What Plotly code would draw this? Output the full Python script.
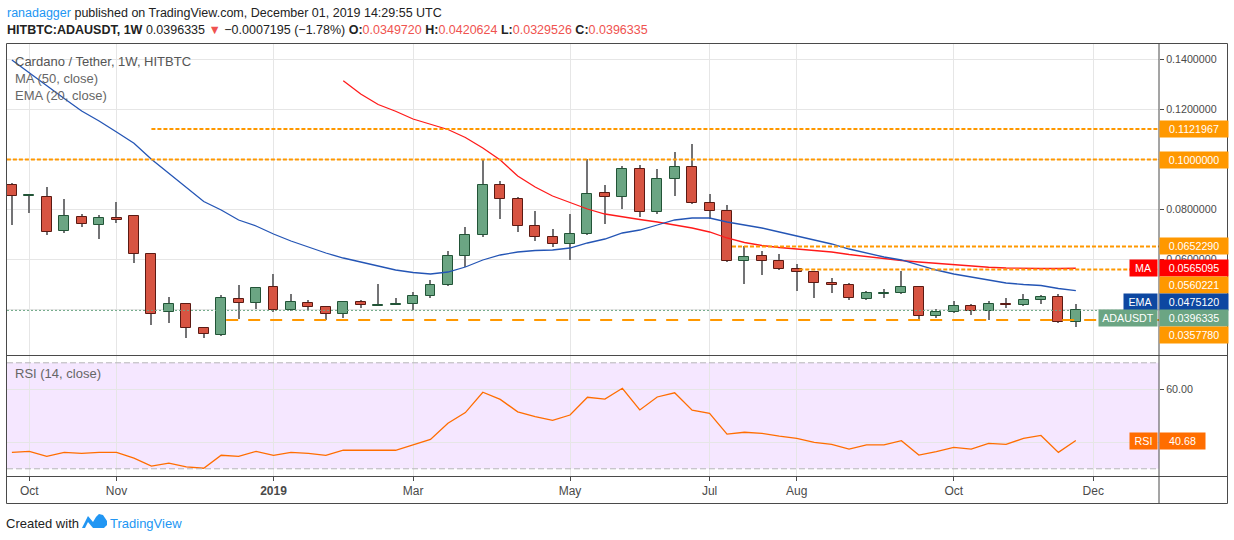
import plotly.graph_objects as go
import pandas as pd

# weekly bars, Sep 24 2018 .. Nov 25 2019
weeks = pd.date_range("2018-09-24", periods=62, freq="7D")

opens = [0.0897, 0.0855, 0.0849, 0.0713, 0.0769, 0.0737, 0.0765, 0.0773, 0.0621, 0.0389,
         0.0421, 0.0325, 0.0297, 0.0441, 0.0425, 0.0489, 0.0397, 0.0425, 0.0409, 0.0381,
         0.0429, 0.0416, 0.0419, 0.0421, 0.0453, 0.0499, 0.0613, 0.0697, 0.0897, 0.0841,
         0.0733, 0.0689, 0.0661, 0.0701, 0.0865, 0.0849, 0.0961, 0.0789, 0.0921, 0.0969,
         0.0825, 0.0793, 0.0593, 0.0613, 0.0593, 0.0561, 0.0549, 0.0505, 0.0497, 0.0441,
         0.0463, 0.0465, 0.0489, 0.0373, 0.0389, 0.0413, 0.0393, 0.0421, 0.0417, 0.0437,
         0.0449, 0.0349720]
highs = [0.0905, 0.0858, 0.0890, 0.0841, 0.0782, 0.0777, 0.0830, 0.0774, 0.0622, 0.0450,
         0.0422, 0.0326, 0.0458, 0.0498, 0.0490, 0.0542, 0.0462, 0.0438, 0.0412, 0.0430,
         0.0437, 0.0501, 0.0445, 0.0469, 0.0518, 0.0634, 0.0730, 0.0998, 0.0914, 0.0849,
         0.0794, 0.0722, 0.0782, 0.1002, 0.0898, 0.0974, 0.0978, 0.0961, 0.1030, 0.1062,
         0.0862, 0.0818, 0.0653, 0.0633, 0.0621, 0.0581, 0.0550, 0.0525, 0.0505, 0.0473,
         0.0481, 0.0553, 0.0493, 0.0401, 0.0433, 0.0421, 0.0433, 0.0445, 0.0461, 0.0457,
         0.0461, 0.0420624]
lows = [0.0739, 0.0787, 0.0699, 0.0707, 0.0731, 0.0683, 0.0745, 0.0587, 0.0339, 0.0347,
        0.0287, 0.0287, 0.0296, 0.0363, 0.0403, 0.0391, 0.0394, 0.0397, 0.0359, 0.0365,
        0.0405, 0.0414, 0.0419, 0.0397, 0.0445, 0.0495, 0.0570, 0.0691, 0.0763, 0.0711,
        0.0673, 0.0649, 0.0597, 0.0697, 0.0741, 0.0803, 0.0771, 0.0781, 0.0853, 0.0824,
        0.0761, 0.0592, 0.0503, 0.0539, 0.0559, 0.0475, 0.0447, 0.0465, 0.0437, 0.0437,
        0.0445, 0.0461, 0.0353, 0.0365, 0.0385, 0.0377, 0.0357, 0.0405, 0.0416, 0.0421,
        0.0345, 0.0329526]
closes = [0.0853, 0.0857, 0.0709, 0.0773, 0.0741, 0.0765, 0.0757, 0.0621, 0.0381, 0.0421,
          0.0325, 0.0301, 0.0445, 0.0425, 0.0485, 0.0397, 0.0429, 0.0409, 0.0381, 0.0429,
          0.0417, 0.0418, 0.0421, 0.0453, 0.0497, 0.0613, 0.0697, 0.0897, 0.0841, 0.0733,
          0.0689, 0.0661, 0.0701, 0.0861, 0.0849, 0.0961, 0.0789, 0.0921, 0.0969, 0.0825,
          0.0793, 0.0593, 0.0609, 0.0593, 0.0561, 0.0549, 0.0505, 0.0497, 0.0445, 0.0465,
          0.0465, 0.0489, 0.0373, 0.0389, 0.0413, 0.0393, 0.0421, 0.0417, 0.0437, 0.0449,
          0.0349, 0.0396335]

# MA(50) only drawn from Feb 4 2019 on
ma_start = 19
ma50 = [0.1315, 0.1262, 0.1220, 0.1193, 0.1162, 0.1142, 0.1120, 0.1088, 0.1046, 0.0998,
        0.0934, 0.0890, 0.0854, 0.0828, 0.0802, 0.0782, 0.0770, 0.0760, 0.0750, 0.0738,
        0.0726, 0.0710, 0.0686, 0.0668, 0.0656, 0.0648, 0.0642, 0.0636, 0.0630, 0.0620,
        0.0612, 0.0602, 0.0596, 0.0590, 0.0584, 0.0579, 0.0575, 0.0569, 0.0566, 0.0564,
        0.0564, 0.0564, 0.0565095]
ema20 = [0.1398, 0.1346, 0.1294, 0.1244, 0.1194, 0.1154, 0.1110, 0.1065, 0.1001, 0.0944,
         0.0886, 0.0832, 0.0798, 0.0758, 0.0734, 0.0702, 0.0674, 0.0650, 0.0626, 0.0606,
         0.0590, 0.0574, 0.0558, 0.0548, 0.0542, 0.0550, 0.0570, 0.0598, 0.0618, 0.0630,
         0.0636, 0.0638, 0.0646, 0.0666, 0.0682, 0.0706, 0.0718, 0.0738, 0.0758, 0.0766,
         0.0766, 0.0750, 0.0738, 0.0726, 0.0710, 0.0694, 0.0678, 0.0662, 0.0642, 0.0626,
         0.0610, 0.0598, 0.0578, 0.0558, 0.0542, 0.0530, 0.0518, 0.0506, 0.0500, 0.0496,
         0.0484, 0.047512]
rsi14 = [36.2, 36.6, 34.7, 36.2, 35.8, 36.2, 36.2, 34.0, 31.0, 32.1,
         30.7, 30.2, 35.1, 34.7, 36.6, 35.1, 36.2, 35.8, 35.1, 37.0,
         37.0, 37.0, 37.0, 39.0, 41.1, 47.2, 51.2, 58.9, 56.2, 51.5,
         49.7, 48.3, 50.3, 57.0, 56.3, 60.4, 52.2, 57.1, 58.7, 52.1,
         50.9, 43.1, 43.8, 43.4, 42.3, 41.5, 40.0, 39.2, 37.4, 39.0,
         39.0, 40.6, 35.2, 36.5, 38.1, 37.4, 39.6, 39.2, 41.5, 42.6,
         36.2, 40.68]

# horizontal support / resistance levels drawn by the author
level_values = [0.1121967, 0.1000000, 0.0652290, 0.0560221, 0.0357780]
level_starts = ["2018-11-19", "2018-09-22", "2019-07-10", "2019-08-06", "2018-12-19"]

month_ticks = ["2018-10-01", "2018-11-05", "2019-01-07", "2019-03-04", "2019-05-06",
               "2019-07-01", "2019-08-05", "2019-10-07", "2019-12-02"]
month_labels = ["Oct", "Nov", "<b>2019</b>", "Mar", "May", "Jul", "Aug", "Oct", "Dec"]
price_ticks = [0.04, 0.06, 0.08, 0.10, 0.12, 0.14]
price_tick_text = ["", "0.0600000", "0.0800000", "", "0.1200000", "0.1400000"]
rsi_ticks = [40, 60]
rsi_tick_text = ["", "60.00"]

X_RANGE = ["2018-09-22 01:00", "2019-12-28 09:00"]
P_RANGE = [0.0218, 0.1462]
R_RANGE = [27.28, 72.57]

UP, DOWN = "#6ba583", "#d75442"
UP_EDGE, DOWN_EDGE = "#225437", "#5b1a13"
WICK = "#737375"
ORANGE = "#ff9800"
RSI_COL = "#ff6d00"
GRID = "#e6e6e6"
TXT = "#4a4a4a"
FRAME = "#4a4a4a"
FONT = "Liberation Sans"

# page geometry in px
W, H = 1234, 540
L, R, T, B = 7, 75, 44, 64
PW, PH = W - L - R, H - T - B
MAIN_BOTTOM = 355


def fx(px):
    return (px - L) / PW


def fy(py):
    return (H - B - py) / PH


def price_px(v):
    return T + (P_RANGE[1] - v) / (P_RANGE[1] - P_RANGE[0]) * (MAIN_BOTTOM - T)


day = 86400000
is_up = [c >= o for o, c in zip(opens, closes)]

fig = go.Figure()

# wicks
fig.add_trace(go.Bar(
    x=weeks, y=[h - l for h, l in zip(highs, lows)], base=lows, width=0.45 * day,
    marker=dict(color=WICK, line=dict(width=0)), hoverinfo="skip"))
# bodies
fig.add_trace(go.Bar(
    x=weeks, y=[abs(c - o) for o, c in zip(opens, closes)],
    base=[min(o, c) for o, c in zip(opens, closes)], width=4 * day,
    marker=dict(color=[UP if u else DOWN for u in is_up],
                line=dict(color=[UP_EDGE if u else DOWN_EDGE for u in is_up], width=1)),
    hoverinfo="skip"))

fig.add_trace(go.Scatter(x=weeks[ma_start:], y=ma50, mode="lines",
                         line=dict(color="#ff1a1a", width=1.3)))
fig.add_trace(go.Scatter(x=weeks, y=ema20, mode="lines",
                         line=dict(color="#2455b5", width=1.3)))
fig.add_trace(go.Scatter(x=weeks, y=rsi14, mode="lines", xaxis="x2", yaxis="y2",
                         line=dict(color=RSI_COL, width=1.3)))

shapes = []
# RSI band
shapes.append(dict(type="rect", xref="paper", yref="y2", x0=0, x1=1, y0=30, y1=70,
                   fillcolor="rgba(153,21,255,0.1)", line=dict(width=0), layer="below"))
for lv in (70, 30):
    shapes.append(dict(type="line", xref="paper", yref="y2", x0=0, x1=1, y0=lv, y1=lv,
                       line=dict(color="#b5b5b8", width=1, dash="6px,3px")))
# author levels
for v, s in zip(level_values, level_starts):
    dash = "12px,10px" if v == level_values[-1] else "4px,2px"
    shapes.append(dict(type="line", xref="x", yref="y", x0=s, x1=X_RANGE[1], y0=v, y1=v,
                       line=dict(color=ORANGE, width=2, dash=dash)))
# last price line
shapes.append(dict(type="line", xref="paper", yref="y", x0=0, x1=1,
                   y0=closes[-1], y1=closes[-1],
                   line=dict(color=UP, width=1, dash="2px,2px")))
# frame
shapes.append(dict(type="rect", xref="paper", yref="paper", x0=fx(6.5), x1=fx(1227.5),
                   y0=fy(503.5), y1=fy(43.5), line=dict(color=FRAME, width=1)))
shapes.append(dict(type="line", xref="paper", yref="paper", x0=fx(1159), x1=fx(1159),
                   y0=fy(503.5), y1=fy(43.5), line=dict(color=FRAME, width=1)))
for yy in (355.5, 476.5):
    shapes.append(dict(type="line", xref="paper", yref="paper", x0=fx(6.5), x1=fx(1227.5),
                       y0=fy(yy), y1=fy(yy), line=dict(color=FRAME, width=1)))


# TradingView logo (rough)
def pth(points):
    return "M " + " L ".join(f"{fx(a):.5f},{fy(b):.5f}" for a, b in points) + " Z"


logo = [(82, 528), (88, 516), (93, 522), (96, 517), (99, 514), (103, 515), (105, 518),
        (107, 521), (107, 525), (104, 528)]
shapes.append(dict(type="path", xref="paper", yref="paper", path=pth(logo),
                   fillcolor="#2196f3", line=dict(width=0)))
shapes.append(dict(type="path", xref="paper", yref="paper",
                   path=pth([(85, 528), (88, 522), (93, 528)]),
                   fillcolor="white", line=dict(width=0)))

annotations = []


def note(text, px, py, size=12, color="#333", anchor="left"):
    annotations.append(dict(text=text, x=fx(px), y=fy(py), xref="paper", yref="paper",
                            xanchor=anchor, yanchor="middle", showarrow=False,
                            font=dict(family=FONT, size=size, color=color)))


RED = "#ef5350"
NB = "\u00a0"
note("<span style='color:#2196f3'>ranadagger</span> published on TradingView.com, "
     "December 01, 2019 14:29:55 UTC", 5, 13, 12.5, "#222")
note(f"<b>HITBTC:ADAUSDT, 1W</b>{NB}0.0396335{NB}<span style='color:{RED}'>\u25bc</span>"
     f"{NB}\u22120.0007195 (\u22121.78%){NB}"
     f"<b>O:</b><span style='color:{RED}'>{opens[-1]:.7f}</span>{NB}"
     f"<b>H:</b><span style='color:{RED}'>{highs[-1]:.7f}</span>{NB}"
     f"<b>L:</b><span style='color:{RED}'>{lows[-1]:.7f}</span>{NB}"
     f"<b>C:</b><span style='color:{RED}'>{closes[-1]:.7f}</span>", 5, 30, 12.5, "#222")
note("Cardano / Tether, 1W, HITBTC", 13, 61, 13, "#555")
note("MA (50, close)", 13, 78, 13, "#666")
note("EMA (20, close)", 13, 95, 13, "#666")
note("RSI (14, close)", 13, 373, 13, "#666")
note("Created with", 4, 523, 13, "#222")
note("TradingView", 108, 523, 13, "#2196f3")

# right-hand price scale labels, stacked so they do not overlap
tags = [(v, ORANGE, None, 0) for v in level_values]
tags += [(ma50[-1], "#ff0000", "MA", 25), (ema20[-1], "#0d47a1", "EMA", 31),
         (closes[-1], UP, "ADAUSDT", 56)]
tags.sort(key=lambda t: -t[0])
prev = -1e9
for v, col, tag, tw in tags:
    p = price_px(v)
    slot = max(p, prev + 16.7)
    prev = slot
    annotations.append(dict(text=f"{v:.7f}", x=1, xref="paper", xanchor="left", y=v, yref="y",
                            yshift=p - slot, showarrow=False, bgcolor=col, width=66, height=14,
                            borderpad=1, font=dict(family=FONT, size=10.7, color="white")))
    if tag:
        annotations.append(dict(text=tag, x=1, xref="paper", xanchor="right", xshift=-1,
                                y=v, yref="y", yshift=p - slot, showarrow=False, bgcolor=col,
                                width=tw, height=14, borderpad=1,
                                font=dict(family=FONT, size=10.7, color="white")))

annotations.append(dict(text=f"{rsi14[-1]:.2f}", x=1, xref="paper", xanchor="left",
                        y=rsi14[-1], yref="y2", showarrow=False, bgcolor=RSI_COL, width=43,
                        height=14, borderpad=1, font=dict(family=FONT, size=10.7, color="white")))
annotations.append(dict(text="RSI", x=1, xref="paper", xanchor="right", xshift=-1,
                        y=rsi14[-1], yref="y2", showarrow=False, bgcolor=RSI_COL, width=25,
                        height=14, borderpad=1, font=dict(family=FONT, size=10.7, color="white")))

axis_font = dict(family=FONT, size=10.7, color=TXT)
fig.update_layout(
    width=W, height=H,
    margin=dict(l=L, r=R, t=T, b=B),
    paper_bgcolor="white", plot_bgcolor="white",
    showlegend=False, barmode="overlay", bargap=0,
    xaxis=dict(domain=[0, 1], range=X_RANGE, type="date", anchor="y",
               tickvals=month_ticks, showticklabels=False, ticks="",
               showgrid=True, gridcolor=GRID, zeroline=False, showline=False),
    yaxis=dict(domain=[fy(MAIN_BOTTOM), 1], range=P_RANGE, anchor="x", side="right",
               tickvals=price_ticks, ticktext=price_tick_text, ticks="outside", ticklen=4,
               tickcolor=TXT, tickfont=axis_font, showgrid=True, gridcolor=GRID,
               zeroline=False, showline=False),
    xaxis2=dict(domain=[0, 1], matches="x", type="date", anchor="y2",
                tickvals=month_ticks, ticktext=month_labels, ticks="outside", ticklen=4,
                tickcolor=TXT, tickfont=dict(family=FONT, size=12, color=TXT),
                showgrid=True, gridcolor=GRID, zeroline=False, showline=False),
    yaxis2=dict(domain=[0, fy(356)], range=R_RANGE, anchor="x2", side="right",
                tickvals=rsi_ticks, ticktext=rsi_tick_text, ticks="outside", ticklen=4,
                tickcolor=TXT, tickfont=axis_font, showgrid=True, gridcolor=GRID,
                zeroline=False, showline=False),
    shapes=shapes,
    annotations=annotations,
)

# drop the browser's default 8px body margin so the figure sits at the page corner
fig.write_html("out.html", config={"displayModeBar": False},
               post_script="document.body.style.margin='0px';")
